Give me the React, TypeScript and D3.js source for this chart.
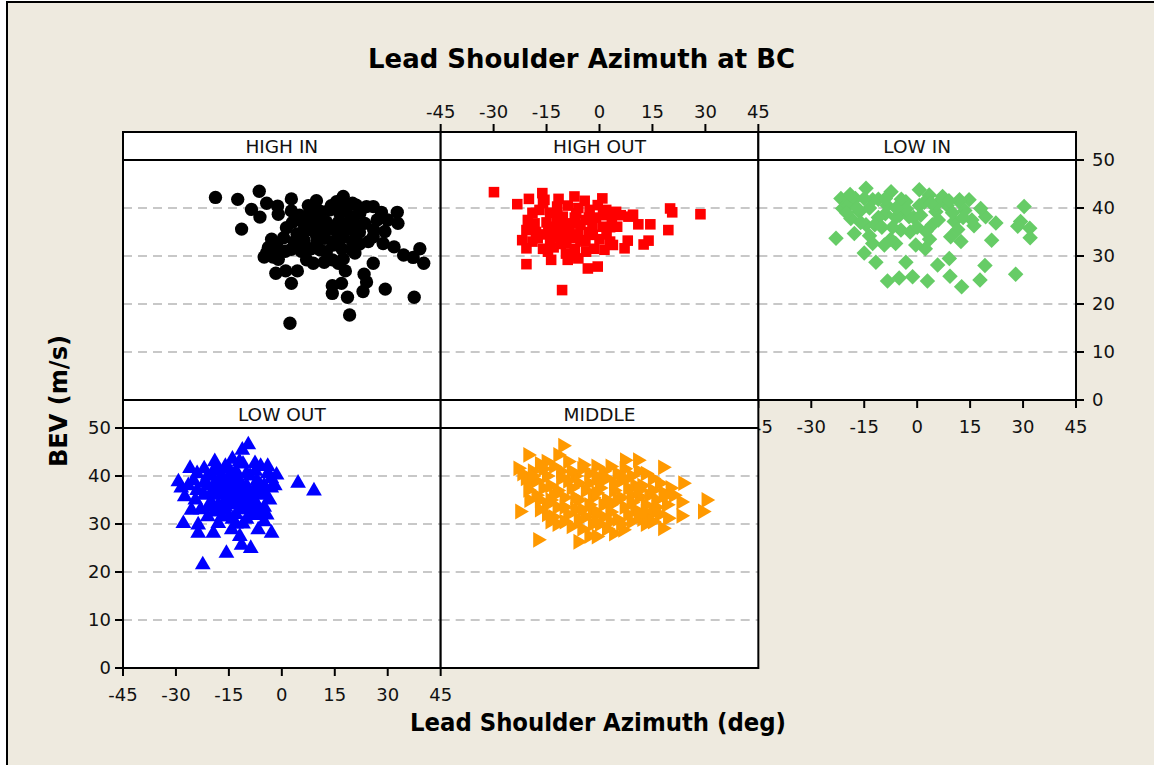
import React from "react";
import * as d3 from "d3";

// axis ticks
const xTicks = [-45, -30, -15, 0, 15, 30, 45];
const yTicks = [0, 10, 20, 30, 40, 50];
const gridTicks = [10, 20, 30, 40];

const panelNames = ["HIGH IN", "HIGH OUT", "LOW IN", "LOW OUT", "MIDDLE"];

// [azimuth (deg), BEV (m/s)]
const highIn: [number, number][] = [
  [-18.8, 42.2], [-12.5, 41.8], [-6.4, 43.5], [-8.6, 39.7], [-4.3, 41], [-6.2, 38.1], [-11.4, 35.6],
  [-1.2, 40.4], [2.7, 41.9], [2.7, 39.4], [-1, 38.7], [1.3, 35.9], [9.8, 41.5], [17.4, 42.4],
  [21.1, 40.6], [25.9, 40.3], [28.2, 39.1], [32.7, 39.1], [32.9, 36.8], [29.2, 35.1], [25.9, 34],
  [28.7, 32.6], [31.8, 31.9], [34.5, 30.2], [39.1, 31.5], [37.2, 29.7], [40.2, 28.5], [37.5, 21.4],
  [29.3, 23.1], [23, 22.6], [24, 24.6], [23.3, 26.2], [25.9, 28.5], [19.2, 17.7], [18.6, 21.4],
  [18, 26.9], [16.9, 24.3], [14.3, 23.8], [14.3, 22.2], [17.4, 29.4], [20.7, 30.6], [19.9, 31.3],
  [21.1, 34.4], [14.3, 29.2], [14.5, 32.3], [2.3, 16], [2.7, 24.3], [-1.7, 26.4], [1.1, 26.9],
  [4.4, 26.9], [2.7, 31.4], [-4.3, 30.7], [-1, 29.3], [-2.9, 33.5], [-1.5, 32.5], [7, 29.2],
  [8.9, 28.5], [6.3, 33.3], [6.5, 36.1], [6, 37.1], [7.9, 38.9], [10.8, 36.5], [12.6, 37.1],
  [12.2, 33.7], [10.8, 31.3], [12.6, 30.9], [15.4, 33.3], [15, 35.4], [17.4, 34], [16.4, 38.9],
  [16.8, 40.5], [18.3, 39.9], [19.7, 38.2], [22.1, 38.9], [23.5, 36.8], [18.3, 36.8], [21, 36.5],
  [26, 35.5], [9.8, 34.4], [14, 35.8], [18.5, 35.5], [8.5, 37], [-3.8, 31.8], [-2.5, 29.8],
  [4.3, 34.6], [5.5, 31], [11, 39.3], [13.5, 39.6], [9, 40], [15.5, 41.3], [20, 41], [24, 40.3],
  [27, 37.5], [30, 37.5], [24.5, 33], [22, 32.5], [17, 31.5], [12, 28.7], [16, 28.5], [8.3, 31.5],
  [6, 35], [-5, 29.8], [0.5, 33.8], [11.5, 34.8], [3, 37], [5, 38.5], [8, 35.5], [10, 33],
  [13, 36], [16, 37], [19, 37], [22, 35], [20, 33], [3.5, 33], [1, 31], [-2, 31], [11, 38],
  [14, 40.5], [7.5, 40.5],
];

const highOut: [number, number][] = [
  [-29.9, 43.3], [-23.3, 40.8], [-20, 41.9], [-16.2, 43.1], [-15.6, 41.7], [-11.6, 41.9], [-7.1, 42.4],
  [-4.2, 41.5], [0.8, 42], [20, 39.9], [20.6, 39.1], [28.6, 38.7], [19.5, 35.4], [14.4, 36.6],
  [11, 36.6], [8.2, 38.2], [13.9, 33.2], [12.5, 32.4], [8, 33.2], [7.1, 31.6], [5, 36.1], [3.8, 32.3],
  [1.4, 31.3], [-0.5, 27.8], [-3.3, 27.4], [-10.6, 22.9], [-20.7, 28.3], [-20.7, 31.6], [-21.9, 33.3],
  [-20.7, 35.4], [-20.3, 37.5], [-17.5, 33.7], [-14.6, 30.9], [-13.7, 29.2], [-9, 29.2], [-3.8, 30.9],
  [-1.5, 31.5], [-5.4, 33.3], [-9.4, 32.6], [-12.3, 34], [-13.2, 36.1], [-10.4, 38.2], [-6.6, 38.9],
  [-2.8, 39.6], [1.9, 39.6], [4.7, 39.2], [0.9, 36.1], [-1.9, 34.4], [-8.5, 35.4], [-17, 39.6],
  [-18.4, 36.8], [-5.4, 36.5], [-11, 35], [-7, 31.5], [-16, 41], [-14, 39], [-12, 40.3], [-0.5, 40.6],
  [3, 33], [2, 34.5], [-4, 37.5], [-15, 37], [-9, 40.5], [-6, 40], [-19, 39], [-8, 36.8], [-11, 32.5],
  [-3, 35], [6, 38.5], [9.5, 38.6], [3.5, 37.5], [-13, 31.8], [-8, 30], [-16, 34.5], [-1, 38],
  [-14, 33], [-12, 36.8], [-10, 34], [-8, 33.8], [-6, 34.5], [-4, 33], [-2, 36.5], [0, 33.5],
  [-10, 36.5], [-7, 38], [-12, 38.5], [-14.5, 35], [-18, 35], [-19, 33], [-16, 31.5], [-3, 38],
  [1, 38.5], [3, 36], [-9.5, 30.5], [-6, 29.5],
];

const lowIn: [number, number][] = [
  [-23, 33.7], [-21.6, 42], [-21.1, 39.9], [-18.8, 37.8], [-17.8, 34.7], [-15, 30.6], [-11.7, 28.7],
  [-8.4, 24.8], [-5.1, 25.4], [-1.3, 25.7], [-3.2, 28.7], [2.9, 24.8], [5.8, 28.1], [9.1, 29.5],
  [9.3, 25.8], [12.6, 23.6], [17.8, 25], [19.2, 28], [27.9, 26.2], [30.3, 40.3], [29.3, 37.2],
  [28.5, 36.2], [31.9, 35.8], [32, 33.8], [21.1, 33.3], [22.3, 36.9], [16.1, 36.3], [19.4, 38.2],
  [18, 39.9], [14.7, 41.7], [11.9, 41.3], [10.5, 37.2], [12.4, 33], [9.5, 34], [2.3, 31.5],
  [-0.4, 32.3], [0.6, 43.8], [0.6, 40.5], [-3.2, 41.3], [-5, 38.5], [-7.4, 43.4], [-14.5, 44.1],
  [-12.6, 41.7], [-9.3, 32.3], [-6.1, 32.6], [-4.6, 35.4], [-14.5, 36.5], [-12.6, 32.6],
  [-16.4, 39.2], [-9, 38.8], [3.4, 42.7], [7.2, 42.4], [5.3, 39.2], [4.3, 36.5], [-2.3, 38.2],
  [2.5, 35.1], [13.5, 39.5], [-19.5, 40.5], [-17.5, 42], [-11, 41.8], [-8.5, 40.5], [-11, 38],
  [-6, 38], [-1, 38], [8.5, 40.5], [-2, 35], [-19, 42.8], [-13.5, 40], [-4.5, 41.8], [2, 41.2],
  [10, 39], [15.5, 37.5], [11.5, 35.5], [-7, 36], [-12, 36.5], [0, 36], [6, 37.5], [-16, 37],
  [12, 41.7], [5.5, 40.8], [-13.5, 34.2], [3.5, 33.5], [-7.5, 33.5], [-20, 39], [-15, 42],
  [-9, 42], [-3, 39.8], [4, 41], [9, 41.5], [-17, 40], [-10, 36], [1, 38.5], [13, 38], [-6, 40],
];

const lowOut: [number, number][] = [
  [-22.4, 21.5], [-15.7, 23.9], [-8.8, 24.9], [-11.4, 25.6], [-11.9, 27.4], [-2.9, 28.1], [-6.7, 28.8],
  [-19.4, 28.1], [-23.7, 28.1], [-27.9, 30.1], [-29.3, 38.8], [4.6, 38.5], [9.1, 36.9], [-9.5, 46.5],
  [-11.2, 45.4], [-1.5, 40.2], [-4.3, 31.9], [-5, 30.5], [-26, 41.6], [-19, 43], [-7.6, 42.6],
  [-6, 42], [-23.7, 29.8], [-14.2, 28.8], [-13, 30], [-27.5, 35.7], [-25.6, 32.9], [-18, 30.1],
  [-24, 40.5], [-22, 41.5], [-21, 38], [-20, 40], [-18, 41], [-17, 38.5], [-16, 42], [-15, 40],
  [-14, 37], [-13, 41], [-12, 39], [-11, 42.5], [-10, 38], [-9, 40], [-8, 37], [-7, 39], [-6, 36],
  [-5, 38], [-4, 40.5], [-3, 37.5], [-3.5, 35], [-5, 33.5], [-7, 34], [-9, 35], [-11, 33],
  [-12, 35.5], [-14, 34], [-16, 35], [-18, 36], [-20, 34.5], [-22, 36], [-24, 37], [-25, 39],
  [-23, 33], [-21, 31.5], [-19, 32.5], [-17, 33], [-15, 31.5], [-13, 32], [-10, 31], [-8, 31.8],
  [-6, 32], [-15, 36.5], [-19, 37.5], [-17, 40], [-13, 38], [-11, 36], [-9, 33], [-12, 43],
  [-14, 43.5], [-18, 39], [-4, 42], [-2, 38], [-28.5, 37.5], [-26.5, 38], [-24.5, 35],
  [-21, 40], [-19, 38.5], [-17, 37], [-15, 38], [-13, 36], [-11, 37.5], [-9, 36.5], [-7, 37],
  [-20, 36.5], [-18, 34], [-16, 33.5], [-14, 35.5], [-12, 34], [-10, 33.5], [-8, 35], [-6, 38],
  [-22, 38.5], [-19, 41.5], [-15, 41.5], [-10, 40.5], [-7.5, 41], [-13, 39.5], [-16.5, 39],
  [-21, 33.5], [-11, 30], [-14, 31], [-17, 31.5], [-8, 33], [-5, 36.5], [-3, 39.5],
];

const middle: [number, number][] = [
  [-10.4, 46.3], [-20.3, 44.4], [-23.1, 41.6], [-22.6, 32.6], [-17.5, 26.7], [-20.3, 37.1],
  [30.2, 35], [29.2, 32.6], [23.1, 34.6], [23.1, 31.7], [23.6, 38.5], [17.9, 41.8], [17.9, 29.1],
  [19.3, 31.2], [10.8, 43.3], [7.1, 43.3], [-6.1, 26.3], [-0.9, 27.4], [6.6, 28.8], [-13.2, 31.5],
  [15.1, 32.9], [11.3, 35.7], [-4.7, 42.3], [-15.1, 43], [-11.8, 44.4], [-22, 40.5], [-19, 41],
  [-17, 42.5], [-15, 40], [-13, 42], [-11, 41], [-9, 43], [-7, 40], [-5, 41.5], [-3, 40.5], [-1, 42],
  [1, 41], [3, 42], [5, 40.5], [7, 41.5], [9, 40], [11, 41], [13, 40.5], [15, 39.5], [17, 38.5],
  [20, 37.5], [21, 36], [-20, 38.5], [-18, 36], [-16, 37.5], [-14, 35], [-12, 37], [-10, 35.5],
  [-8, 37.5], [-6, 35], [-4, 37], [-2, 35.5], [0, 37.5], [2, 35], [4, 37], [6, 35.5], [8, 37.5],
  [10, 33], [12, 38], [14, 36], [16, 35], [18, 36.5], [-17, 33], [-15, 32], [-12, 33.5], [-9, 32],
  [-7, 33], [-4, 31.5], [-2, 33], [1, 31.5], [3, 32.5], [5, 31], [8, 32], [12, 31], [-8, 29.5],
  [-5, 29], [-2, 30], [2, 29], [4, 28], [9, 30.5], [13, 30], [-3, 27.5], [-12, 30], [-18, 39],
  [-21, 39.5], [0, 39], [-9, 39], [6, 39], [10, 38], [16, 33.5], [19, 34], [14, 31.8], [-1, 32],
  [-19, 40], [-16, 41.5], [-14, 38], [-11, 39.5], [-8, 41], [-6, 38.5], [-3, 38.5], [-1, 40],
  [2, 39.5], [4, 38.5], [7, 39.5], [9, 36], [11, 37], [13, 34], [15, 37], [-15, 34], [-13, 36],
  [-10, 33.5], [-7, 35.5], [-5, 33], [-3, 34], [-1, 36.5], [1, 34], [3, 34], [5, 35], [7, 33.5],
  [9, 34.5], [11, 32], [13, 32.5], [-10, 30.5], [-6, 31], [0, 30], [3, 30.5], [6, 30], [-14, 30.5],
  [-17, 35], [-20, 35], [17, 32], [19, 36], [15, 30.5],
];

const panelData = [highIn, highOut, lowIn, lowOut, middle];
const panelColors = ["#000000", "#ff0000", "#66cc66", "#0000ff", "#ff9900"];

const W = 1154;
const H = 765;
const left = 123;
const panelW = 317.67;
const top = 132;
const stripH = 28;
const plotH = 240;
const font = "'DejaVu Sans', Verdana, sans-serif";

const symPath = [
  d3.symbol().type(d3.symbolCircle).size(140)(),
  d3.symbol().type(d3.symbolSquare).size(112)(),
  d3.symbol().type(d3.symbolSquare).size(120)(),
  d3.symbol().type(d3.symbolTriangle).size(108)(),
  d3.symbol().type(d3.symbolTriangle).size(108)(),
];
const symRotate = [0, 0, 45, 0, 90];

function panelGeom(i: number) {
  const col = i % 3;
  const row = Math.floor(i / 3);
  const x0 = left + col * panelW;
  const y0 = top + row * (stripH + plotH);
  const x = d3.scaleLinear().domain([-45, 45]).range([x0, x0 + panelW]);
  const y = d3.scaleLinear().domain([0, 50]).range([y0 + stripH + plotH, y0 + stripH]);
  return { x0, y0, x, y };
}

const Panel = ({ i }: { i: number }) => {
  const { x0, y0, x, y } = panelGeom(i);
  const yTop = y0 + stripH;
  return (
    <g>
      <rect x={x0} y={y0} width={panelW} height={stripH + plotH} fill="#fff" />
      {gridTicks.map((t) => (
        <line key={t} x1={x0} x2={x0 + panelW} y1={y(t)} y2={y(t)}
          stroke="#c8c8c8" strokeWidth={1.8} strokeDasharray="9,6" />
      ))}
      {panelData[i].map((d, k) => (
        <path key={k} d={symPath[i] as string}
          transform={`translate(${x(d[0])},${y(d[1])}) rotate(${symRotate[i]})`}
          fill={panelColors[i]} />
      ))}
      <rect x={x0} y={y0} width={panelW} height={stripH + plotH} fill="none" stroke="#000" strokeWidth={2} />
      <line x1={x0} x2={x0 + panelW} y1={yTop} y2={yTop} stroke="#000" strokeWidth={2} />
      <text x={x0 + panelW / 2} y={y0 + 21} textAnchor="middle" fontSize={18.5} fontFamily={font} fill="#111">
        {panelNames[i]}
      </text>
    </g>
  );
};

const XAxis = ({ i, side }: { i: number; side: "top" | "bottom" }) => {
  const { x, y } = panelGeom(i);
  const yy = side === "top" ? y.range()[1] - stripH : y.range()[0];
  const dir = side === "top" ? -1 : 1;
  return (
    <g>
      {xTicks.map((t) => (
        <g key={t}>
          <line x1={x(t)} x2={x(t)} y1={yy} y2={yy + dir * 8} stroke="#000" strokeWidth={2} />
          <text x={x(t)} y={side === "top" ? yy - 14 : yy + 33} textAnchor="middle"
            fontSize={18} fontFamily={font} fill="#111">{t}</text>
        </g>
      ))}
    </g>
  );
};

const YAxis = ({ i, side }: { i: number; side: "left" | "right" }) => {
  const { x, y } = panelGeom(i);
  const xx = side === "left" ? x.range()[0] : x.range()[1];
  const dir = side === "left" ? -1 : 1;
  return (
    <g>
      {yTicks.map((t) => (
        <g key={t}>
          <line x1={xx} x2={xx + dir * 8} y1={y(t)} y2={y(t)} stroke="#000" strokeWidth={2} />
          <text x={side === "left" ? xx - 12 : xx + 16} y={y(t)} dy="0.36em"
            textAnchor={side === "left" ? "end" : "start"}
            fontSize={18} fontFamily={font} fill="#111">{t}</text>
        </g>
      ))}
    </g>
  );
};

export default function App() {
  return (
    <svg width={W} height={H} style={{ position: "absolute", left: 0, top: 0, background: "#fff" }}>
      <rect x={7} y={2} width={W} height={H} fill="#eeeadf" stroke="#000" strokeWidth={2} />
      <text x={581.5} y={68} textAnchor="middle" fontSize={27} fontWeight="bold" fontFamily={font}
        textLength={427} lengthAdjust="spacingAndGlyphs" fill="#000">
        Lead Shoulder Azimuth at BC
      </text>
      {/* top row */}
      <Panel i={0} />
      <Panel i={1} />
      <Panel i={2} />
      <XAxis i={1} side="top" />
      <YAxis i={2} side="right" />
      <XAxis i={2} side="bottom" />
      {/* bottom row */}
      <Panel i={3} />
      <Panel i={4} />
      <XAxis i={3} side="bottom" />
      <YAxis i={3} side="left" />
      <text x={598} y={731} textAnchor="middle" fontSize={25} fontWeight="bold" fontFamily={font}
        textLength={376} lengthAdjust="spacingAndGlyphs" fill="#000">
        Lead Shoulder Azimuth (deg)
      </text>
      <text transform="translate(67,401) rotate(-90)" textAnchor="middle" fontSize={25} fontWeight="bold"
        fontFamily={font} textLength={132} lengthAdjust="spacingAndGlyphs" fill="#000">
        BEV (m/s)
      </text>
    </svg>
  );
}
